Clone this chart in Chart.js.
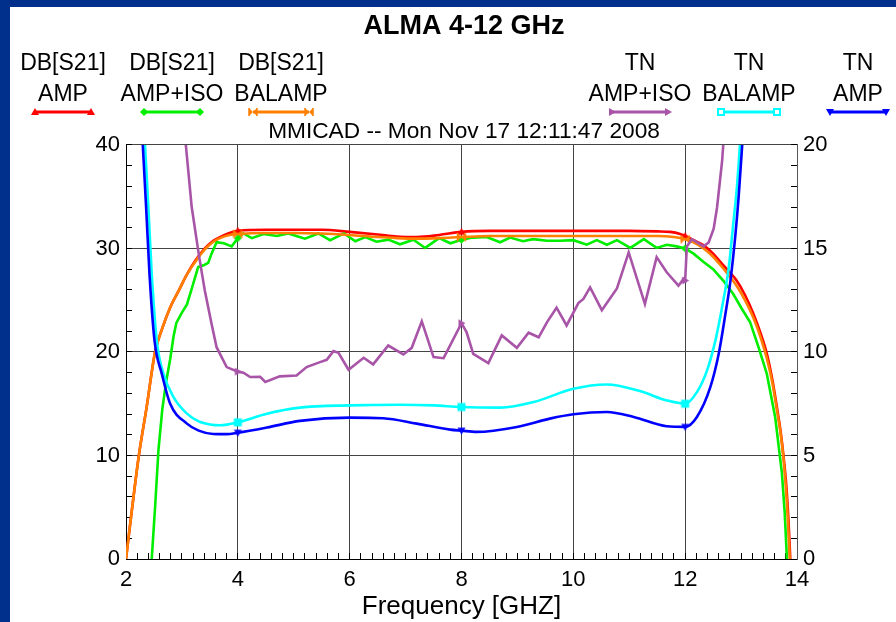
<!DOCTYPE html>
<html>
<head>
<meta charset="utf-8">
<script src="https://cdn.jsdelivr.net/npm/chart.js@4.4.1/dist/chart.umd.min.js"></script>
<style>
html,body{margin:0;padding:0;width:896px;height:622px;overflow:hidden;background:#00308c;}
#frame{position:absolute;left:10px;top:7px;right:0;bottom:0;background:#ffffff;}
#c{position:absolute;left:0;top:0;}
</style>
</head>
<body>
<div id="frame"></div>
<canvas id="c" width="896" height="622"></canvas>
<script>
// ---------------- data ----------------
const seriesLabels = ['DB[S21] AMP', 'DB[S21] AMP+ISO', 'DB[S21] BALAMP', 'TN AMP+ISO', 'TN BALAMP', 'TN AMP'];
const markerFreqs = [4, 8, 12];

// Gain, amplifier alone (dB, left axis)
const freqGainAmp = [2.0, 2.1, 2.23, 2.37, 2.52, 2.65, 2.79, 2.95, 3.09, 3.25, 3.41, 3.55, 3.68, 3.85, 4.0,
  4.5, 5.0, 5.5, 6.0, 6.5, 6.84, 7.2, 7.6, 8.0, 8.5, 9.0, 9.5, 10.0, 10.5, 11.0, 11.5,
  11.73, 11.91, 12.0, 12.15, 12.33, 12.5, 12.63, 12.78, 12.92,
  13.07, 13.22, 13.35, 13.46, 13.56, 13.64, 13.71, 13.76, 13.81, 13.85, 13.88];
const gainAmp = [0, 4.5, 10, 14.7, 20, 22.3, 24.3, 26, 27.5, 28.9, 30.0, 30.7, 31.1, 31.5, 31.7,
  31.8, 31.8, 31.8, 31.6, 31.35, 31.15, 31.1, 31.3, 31.6, 31.7, 31.7, 31.7, 31.7, 31.7, 31.7, 31.65,
  31.6, 31.4, 31.2, 30.8, 30.3, 29.5, 28.7, 27.8, 26.9,
  25.5, 23.7, 21.8, 19.85, 17.3, 14.7, 12.2, 9.86, 7.0, 3.5, 0];

// Gain, amplifier + isolator (dB, left axis)
const freqGainAmpIso = [2.46, 2.52, 2.58, 2.65, 2.72, 2.79, 2.85, 2.9, 3.0, 3.09, 3.18, 3.29, 3.4, 3.47, 3.53,
  3.62, 3.75, 3.89, 4.0, 4.1, 4.25, 4.46, 4.7, 4.9, 5.2, 5.44, 5.65, 5.9, 6.1, 6.28, 6.48, 6.69, 6.9,
  7.14, 7.35, 7.6, 7.8, 8.0, 8.2, 8.45, 8.69, 8.87, 9.1, 9.28, 9.53, 9.76, 10.0, 10.24, 10.42, 10.6,
  10.78, 11.02, 11.26, 11.49, 11.67, 11.85, 12.0, 12.15, 12.33, 12.5, 12.68, 12.86, 13.01, 13.16,
  13.31, 13.46, 13.61, 13.73, 13.78, 13.82];
const gainAmpIso = [0, 5, 10.5, 14.5, 17.2, 19.3, 21.5, 22.8, 23.8, 24.6, 26.2, 28.2, 28.4, 28.6, 29.5,
  30.6, 30.5, 30.2, 31.0, 31.45, 31.0, 31.4, 31.2, 31.45, 30.95, 31.45, 30.8, 31.45, 30.7, 31.1, 30.65, 30.85, 30.4,
  30.85, 30.05, 31.0, 30.5, 30.85, 31.05, 31.1, 30.6, 31.05, 30.7, 30.9, 30.75, 30.75, 30.8, 30.36, 30.8, 30.36,
  30.8, 30.05, 30.9, 30.05, 30.36, 30.2, 30.0, 29.5, 28.7, 28.0, 26.9, 25.6, 24.2, 22.9,
  20.5, 17.9, 13.7, 8.3, 4.5, 0];

// Gain, balanced amplifier (dB, left axis)
const freqGainBal = [2.0, 2.1, 2.23, 2.37, 2.52, 2.65, 2.79, 2.95, 3.09, 3.25, 3.41, 3.55, 3.68, 3.85, 4.0,
  4.5, 5.0, 5.5, 6.0, 6.5, 6.84, 7.2, 7.6, 8.0, 8.5, 9.0, 9.5, 10.0, 10.5, 11.0, 11.5,
  11.8, 12.0, 12.15, 12.33, 12.5, 12.63, 12.78, 12.92,
  13.07, 13.22, 13.35, 13.46, 13.56, 13.64, 13.71, 13.76, 13.8, 13.84, 13.87];
const gainBal = [0, 4.5, 10, 14.7, 20, 22.3, 24.3, 26, 27.5, 28.8, 29.9, 30.6, 31.0, 31.3, 31.4,
  31.5, 31.5, 31.45, 31.3, 31.1, 31.0, 30.95, 31.0, 31.1, 31.2, 31.2, 31.2, 31.2, 31.2, 31.2, 31.2,
  31.1, 30.9, 30.6, 30.0, 29.2, 28.4, 27.4, 26.4,
  25.0, 23.3, 21.4, 19.4, 17.0, 14.4, 12.0, 9.6, 7.0, 3.5, 0];

// Noise temperature, amplifier + isolator (right axis)
const freqTnAmpIso = [3.02, 3.07, 3.175, 3.31, 3.41, 3.53, 3.62, 3.8, 4.0, 4.1, 4.22, 4.4, 4.49, 4.75, 5.05,
  5.23, 5.47, 5.59, 5.71, 5.8, 5.98, 6.25, 6.42, 6.69, 6.96, 7.11, 7.29, 7.5, 7.68, 8.0, 8.09,
  8.21, 8.48, 8.72, 8.99, 9.2, 9.38, 9.53, 9.7, 9.88, 10.09, 10.18, 10.3, 10.51, 10.78, 10.99,
  11.28, 11.49, 11.67, 11.88, 11.97, 12.0, 12.03, 12.12, 12.33, 12.42, 12.51, 12.57, 12.66, 12.72];
const tnAmpIso = [21.4, 20.0, 17.0, 14.57, 12.96, 11.36, 10.23, 9.27, 9.05, 9.0, 8.79, 8.8, 8.55, 8.82, 8.86,
  9.27, 9.51, 9.62, 10.04, 9.96, 9.14, 9.72, 9.4, 10.31, 9.88, 10.2, 11.48, 9.75, 9.7, 11.39, 10.96,
  9.91, 9.46, 10.8, 10.2, 10.93, 10.71, 11.44, 12.14, 11.28, 12.36, 12.56, 13.12, 12.02, 13.07, 14.81,
  12.32, 14.58, 13.85, 13.2, 13.53, 13.45, 15.1, 15.45, 15.1, 15.29, 15.95, 16.98, 19.2, 21.5];

// Noise temperature, balanced amplifier (right axis)
const freqTnBal = [2.32, 2.34, 2.40, 2.46, 2.55, 2.67, 2.85, 3.09, 3.3, 3.5, 3.68, 4.0, 4.52, 5.11, 6.0, 6.9,
  7.5, 8.0, 8.69, 9.29, 10.0, 10.6, 11.19, 11.67, 12.0, 12.21, 12.39, 12.54, 12.66, 12.78, 12.86,
  12.93, 12.98, 13.01];
const tnBal = [21, 20, 16.98, 13.77, 10.55, 8.95, 7.82, 7.02, 6.65, 6.5, 6.46, 6.6, 7.02, 7.31, 7.42, 7.45,
  7.42, 7.34, 7.31, 7.58, 8.22, 8.43, 8.11, 7.66, 7.5, 8.06, 9.1, 10.55, 12.16, 14.09, 16.18,
  18.1, 20, 21.2];

// Noise temperature, amplifier alone (right axis)
const freqTnAmp = [2.28, 2.30, 2.36, 2.42, 2.51, 2.64, 2.79, 3.09, 3.3, 3.56, 3.8, 4.0, 4.52, 5.11, 6.0, 6.6,
  7.2, 7.8, 8.0, 8.27, 8.99, 9.58, 10.0, 10.6, 11.08, 11.67, 12.0, 12.21, 12.45, 12.6, 12.72, 12.81,
  12.9, 12.96, 13.02, 13.05];
const tnAmp = [21, 20, 16.98, 13.77, 10.55, 8.95, 7.5, 6.54, 6.2, 6.04, 6.03, 6.1, 6.35, 6.67, 6.83, 6.8,
  6.54, 6.25, 6.2, 6.14, 6.38, 6.78, 6.99, 7.1, 6.86, 6.41, 6.38, 6.86, 8.3, 9.91, 11.84, 13.45,
  15.7, 17.62, 20, 21];

// ---------------- styling ----------------
const FONT = "'Liberation Sans', Arial, Helvetica, sans-serif";
const colors = ['#ff0000', '#00ee00', '#ff8000', '#a855a8', '#00ffff', '#0000ff'];
const markKinds = ['triUp', 'diamond', 'bowtie', 'triRight', 'square', 'triDown'];

function drawMark(ctx, kind, x, y, r, color, hollow) {
  ctx.save();
  ctx.fillStyle = color; ctx.strokeStyle = color; ctx.lineWidth = 1.5;
  ctx.beginPath();
  switch (kind) {
    case 'triUp':
      ctx.moveTo(x, y - r); ctx.lineTo(x + r, y + r * 0.75); ctx.lineTo(x - r, y + r * 0.75); ctx.closePath(); ctx.fill(); break;
    case 'triDown':
      ctx.moveTo(x, y + r); ctx.lineTo(x + r, y - r * 0.75); ctx.lineTo(x - r, y - r * 0.75); ctx.closePath(); ctx.fill(); break;
    case 'triRight':
      ctx.moveTo(x + r, y); ctx.lineTo(x - r * 0.75, y - r); ctx.lineTo(x - r * 0.75, y + r); ctx.closePath(); ctx.fill(); break;
    case 'diamond':
      ctx.moveTo(x, y - r); ctx.lineTo(x + r, y); ctx.lineTo(x, y + r); ctx.lineTo(x - r, y); ctx.closePath(); ctx.fill(); break;
    case 'bowtie':
      ctx.moveTo(x - r, y - r); ctx.lineTo(x, y); ctx.lineTo(x - r, y + r); ctx.closePath();
      ctx.moveTo(x + r, y - r); ctx.lineTo(x, y); ctx.lineTo(x + r, y + r); ctx.closePath(); ctx.fill();
      ctx.beginPath(); ctx.moveTo(x - r, y - r); ctx.lineTo(x - r, y + r); ctx.moveTo(x + r, y - r); ctx.lineTo(x + r, y + r); ctx.stroke(); break;
    case 'square':
      if (hollow) { ctx.fillStyle = '#ffffff'; ctx.fillRect(x - r, y - r, 2 * r, 2 * r); ctx.lineWidth = 2; ctx.strokeRect(x - r + 1, y - r + 1, 2 * r - 2, 2 * r - 2); }
      else { ctx.fillRect(x - r, y - r, 2 * r, 2 * r); }
      break;
  }
  ctx.restore();
}

function markCanvas(kind, color) {
  const c = document.createElement('canvas');
  c.width = 11; c.height = 11;
  drawMark(c.getContext('2d'), kind, 5.5, 5.5, 4, color, false);
  return c;
}

const pts = (fs, vs) => fs.map((f, i) => ({ x: f, y: vs[i] }));
const seriesData = [
  pts(freqGainAmp, gainAmp), pts(freqGainAmpIso, gainAmpIso), pts(freqGainBal, gainBal),
  pts(freqTnAmpIso, tnAmpIso), pts(freqTnBal, tnBal), pts(freqTnAmp, tnAmp)
];
const axisOf = ['y', 'y', 'y', 'y2', 'y2', 'y2'];
const drawOrder = [5, 4, 3, 2, 1, 0];
const smooth = [true, false, true, false, true, true];

const datasets = seriesData.map((d, i) => ({
  label: seriesLabels[i],
  data: d,
  yAxisID: axisOf[i],
  order: drawOrder[i],
  borderColor: colors[i],
  backgroundColor: colors[i],
  borderWidth: 2.6,
  fill: false,
  tension: 0,
  cubicInterpolationMode: smooth[i] ? 'monotone' : 'default',
  pointStyle: markCanvas(markKinds[i], colors[i]),
  pointRadius: ctx => (ctx.raw && markerFreqs.includes(ctx.raw.x)) ? 4 : 0,
  pointHoverRadius: 0
}));

const tickFont = { size: 22, family: FONT };

// Zero-width companion scales, placed next to the plot area (low weight),
// whose tick marks point inward (negative tickLength): the minor ticks.
const minorScale = (axis, position, min, max, step) => ({
  type: 'linear', axis, position, min, max, weight: -1,
  ticks: { stepSize: step, display: false, autoSkip: false },
  grid: { drawOnChartArea: false, drawTicks: true, tickLength: -6, tickColor: '#000', tickWidth: 1 },
  border: { display: false },
  afterFit: s => { if (axis === 'x') s.height = 0; else s.width = 0; }
});

// two-row legend items with a marker-capped line underneath
const legendCenters = [63, 172, 281, 640, 749, 858];
const topLegend = {
  id: 'topLegend',
  afterDraw(chart) {
    const ctx = chart.ctx;
    ctx.save();
    ctx.font = '23px ' + FONT;
    ctx.fillStyle = '#000';
    ctx.textAlign = 'center';
    ctx.textBaseline = 'middle';
    chart.data.datasets.forEach((ds, i) => {
      const cx = legendCenters[i];
      const sp = ds.label.indexOf(' ');
      ctx.fillText(ds.label.slice(0, sp), cx, 64);
      ctx.fillText(ds.label.slice(sp + 1), cx, 95);
      ctx.strokeStyle = ds.borderColor; ctx.lineWidth = 3;
      ctx.beginPath(); ctx.moveTo(cx - 28, 112); ctx.lineTo(cx + 28, 112); ctx.stroke();
      drawMark(ctx, markKinds[i], cx - 28, 112, 4, ds.borderColor, true);
      drawMark(ctx, markKinds[i], cx + 28, 112, 4, ds.borderColor, true);
    });
    ctx.restore();
  }
};

new Chart(document.getElementById('c'), {
  type: 'line',
  data: { datasets },
  plugins: [topLegend],
  options: {
    responsive: false,
    animation: false,
    events: [],
    layout: { padding: { left: 32, right: 0, top: 0, bottom: 0 } },
    plugins: {
      legend: { display: false },
      tooltip: { enabled: false },
      title: {
        display: true, text: 'ALMA 4-12 GHz', color: '#000',
        font: { size: 27, weight: 'bold', family: FONT },
        padding: { top: 10, bottom: 40 }
      },
      subtitle: {
        display: true, text: 'MMICAD -- Mon Nov 17 12:11:47 2008', color: '#000',
        font: { size: 22.7, family: FONT },
        padding: { top: 35.3, bottom: 0 }
      }
    },
    scales: {
      x: {
        type: 'linear', position: 'bottom', min: 2, max: 14, weight: 1,
        ticks: { stepSize: 2, color: '#000', font: tickFont, padding: 8, maxRotation: 0, autoSkip: false },
        grid: { color: '#444', lineWidth: 1, drawTicks: false },
        border: { color: '#000', width: 1 },
        title: { display: true, text: 'Frequency [GHZ]', color: '#000', font: { size: 26, family: FONT }, padding: { top: 0, bottom: 0 } },
        afterFit: s => { s.height = 63; }
      },
      y: {
        type: 'linear', position: 'left', min: 0, max: 40, weight: 1,
        ticks: { stepSize: 10, color: '#000', font: tickFont, padding: 6 },
        grid: { color: '#444', lineWidth: 1, drawTicks: false },
        border: { color: '#000', width: 1 },
        afterFit: s => { s.width = 94; }
      },
      y2: {
        type: 'linear', position: 'right', min: 0, max: 20, weight: 1,
        ticks: { stepSize: 5, color: '#000', font: tickFont, padding: 6 },
        grid: { display: false, drawTicks: false },
        border: { color: '#555', width: 1 },
        afterFit: s => { s.width = 99; }
      },
      xMinor: minorScale('x', 'bottom', 2, 14, 0.2),
      yMinor: minorScale('y', 'left', 0, 40, 2),
      y2Minor: minorScale('y', 'right', 0, 20, 1)
    }
  }
});
</script>
</body>
</html>
